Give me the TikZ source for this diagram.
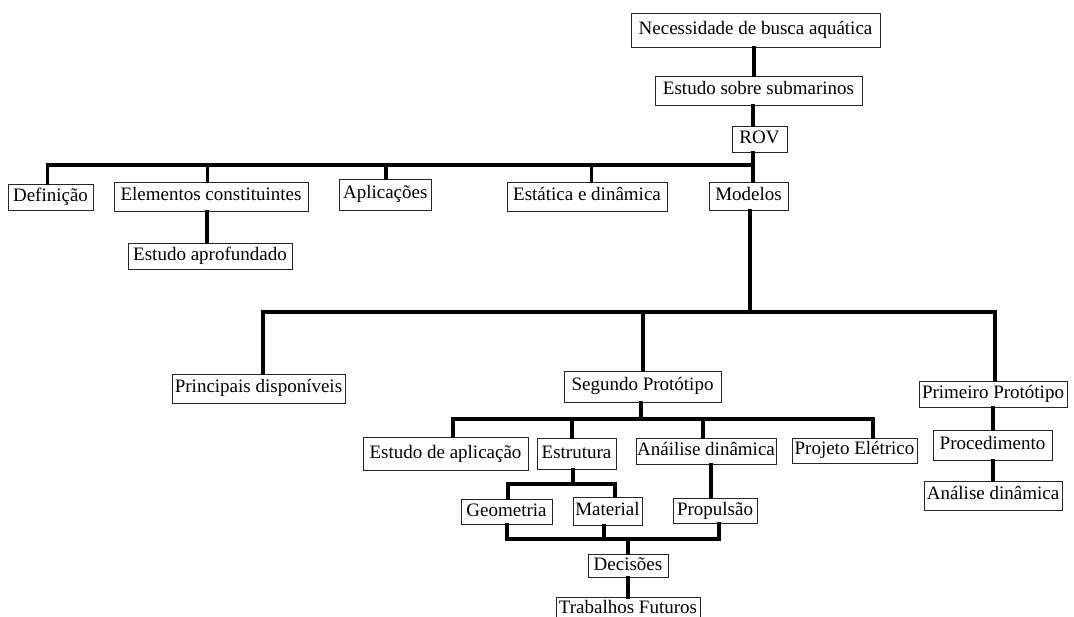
\documentclass[tikz,border=0pt]{standalone}
\usepackage{fontspec}
\setmainfont{Liberation Serif}
\begin{document}
\begin{tikzpicture}[x=1pt,y=-1pt,
  box/.style={draw=black!85,line width=0.9pt,fill=white,rectangle,inner sep=0pt,
    font=\fontsize{19}{22}\selectfont,text height=13pt,text depth=4pt},
  conn/.style={line width=3.6pt,line cap=rect,line join=miter}]
\useasboundingbox (0,0) rectangle (1074,617);
\clip (0,0) rectangle (1074,617);
% nodes
\node[box,minimum width=249pt,minimum height=34pt] (nec) at (755.5,30) {Necessidade de busca aquática};
\node[box,minimum width=207pt,minimum height=29pt] (est) at (758.5,90.5) {Estudo sobre submarinos};
\node[box,minimum width=55pt,minimum height=26pt] (rov) at (759.5,139) {ROV};
\node[box,minimum width=85pt,minimum height=26pt] (def) at (50.5,197) {Definição};
\node[box,minimum width=194pt,minimum height=29pt] (elem) at (211,196.5) {Elementos constituintes};
\node[box,minimum width=92pt,minimum height=31pt] (apl) at (385.25,194.5) {Aplicações};
\node[box,minimum width=160pt,minimum height=29pt] (estat) at (587,196.5) {Estática e dinâmica};
\node[box,minimum width=79pt,minimum height=28pt] (mod) at (748.5,196) {Modelos};
\node[box,minimum width=164pt,minimum height=26pt] (aprof) at (210,256) {Estudo aprofundado};
\node[box,minimum width=173pt,minimum height=29pt] (princ) at (258.5,388.5) {Principais disponíveis};
\node[box,minimum width=157pt,minimum height=31pt] (seg) at (642.5,386.5) {Segundo Protótipo};
\node[box,minimum width=148pt,minimum height=26pt] (prim) at (993,394) {Primeiro Protótipo};
\node[box,minimum width=165pt,minimum height=33pt] (estap) at (445.5,453.5) {Estudo de aplicação};
\node[box,minimum width=79pt,minimum height=31pt] (estr) at (576.5,453.5) {Estrutura};
\node[box,minimum width=140pt,minimum height=26pt] (anad) at (706,451) {Anáilise dinâmica};
\node[box,minimum width=125pt,minimum height=25pt] (proj) at (854.5,450.5) {Projeto Elétrico};
\node[box,minimum width=119pt,minimum height=30pt] (proc) at (992.5,445) {Procedimento};
\node[box,minimum width=138pt,minimum height=29pt] (anad2) at (993,495.5) {Análise dinâmica};
\node[box,minimum width=91pt,minimum height=25pt] (geo) at (506.5,511.5) {Geometria};
\node[box,minimum width=69pt,minimum height=28pt] (mat) at (607.5,511) {Material};
\node[box,minimum width=84pt,minimum height=25pt] (prop) at (715,510.5) {Propulsão};
\node[box,minimum width=80pt,minimum height=23pt] (dec) at (628,565.5) {Decisões};
\node[box,minimum width=144pt,minimum height=20pt,text height=12pt,text depth=0pt,anchor=north] (trab) at (628,597) {Trabalhos Futuros};
% connectors
\draw[conn] (754,0 |- nec.south) -- (754,0 |- est.north);
\draw[conn] (753,0 |- est.south) -- (753,0 |- rov.north);
\draw[conn] (753,0 |- rov.south) -- (753,0 |- mod.north);
\draw[conn] (47.5,0 |- def.north) -- (47.5,165) -- (753,165);
\draw[conn] (207.6,165) -- (207.6,0 |- elem.north);
\draw[conn] (386,165) -- (386,0 |- apl.north);
\draw[conn] (591.5,165) -- (591.5,0 |- estat.north);
\draw[conn] (207,0 |- elem.south) -- (207,0 |- aprof.north);
\draw[conn] (750,0 |- mod.south) -- (750,312);
\draw[conn] (263,0 |- princ.north) -- (263,312) -- (995,312) -- (995,0 |- prim.north);
\draw[conn] (643,312) -- (643,0 |- seg.north);
\draw[conn] (641,0 |- seg.south) -- (641,419);
\draw[conn] (453,0 |- estap.north) -- (453,419) -- (873,419) -- (873,0 |- proj.north);
\draw[conn] (572,419) -- (572,0 |- estr.north);
\draw[conn] (703,419) -- (703,0 |- anad.north);
\draw[conn] (711,0 |- anad.south) -- (711,0 |- prop.north);
\draw[conn] (573,0 |- estr.south) -- (573,484);
\draw[conn] (508,0 |- geo.north) -- (508,484) -- (615,484) -- (615,0 |- mat.north);
\draw[conn] (507,0 |- geo.south) -- (507,539) -- (719,539) -- (719,0 |- prop.south);
\draw[conn] (604,0 |- mat.south) -- (604,539);
\draw[conn] (628,539) -- (628,0 |- dec.north);
\draw[conn] (628,0 |- dec.south) -- (628,0 |- trab.north);
\draw[conn] (993,0 |- prim.south) -- (993,0 |- proc.north);
\draw[conn] (993,0 |- proc.south) -- (993,0 |- anad2.north);
\end{tikzpicture}
\end{document}
